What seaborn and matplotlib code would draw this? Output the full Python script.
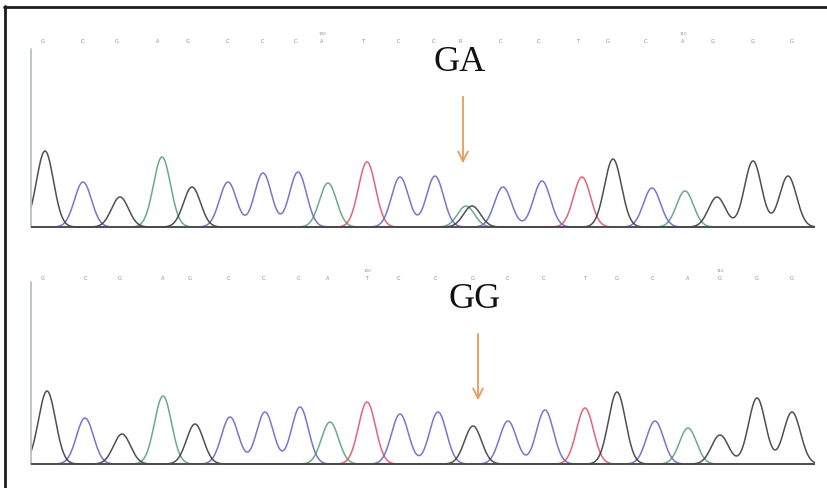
import numpy as np
import pandas as pd
import matplotlib
matplotlib.use("Agg")
import matplotlib.pyplot as plt
import seaborn as sns
from matplotlib.lines import Line2D

# --- data (scan position, peak height, base) ---
top_peak_pos = [45, 83, 120, 162, 192, 228, 263, 298, 328, 367, 400, 435,
                466, 472, 503, 542, 582, 613, 652, 685, 717, 753, 788]
top_peak_height = [76, 45, 30, 70, 40, 45, 54, 55, 44, 65, 50, 51,
                   21, 21, 40, 46, 50, 68, 39, 36, 30, 66, 51]
top_peak_base = ["G", "C", "G", "A", "G", "C", "C", "C", "A", "T", "C", "C",
                 "A", "G", "C", "C", "T", "G", "C", "A", "G", "G", "G"]
top_call_pos = [43, 82, 117, 158, 188, 227, 262, 295, 322, 363, 398,
                433, 460, 500, 538, 578, 608, 645, 683, 713, 753, 792]
top_calls = ["G", "C", "G", "A", "G", "C", "C", "C", "A", "T", "C",
             "C", "R", "C", "C", "T", "G", "C", "A", "G", "G", "G"]
top_num_pos = [322, 683]
top_nums = ["100", "110"]

bottom_peak_pos = [47, 85, 122, 163, 195, 230, 265, 300, 330, 367, 400,
                   438, 473, 508, 545, 585, 617, 655, 688, 720, 757, 792]
bottom_peak_height = [73, 46, 30, 68, 40, 47, 52, 57, 42, 62, 50,
                      52, 38, 43, 54, 56, 72, 43, 36, 29, 66, 52]
bottom_peak_base = ["G", "C", "G", "A", "G", "C", "C", "C", "A", "T", "C",
                    "C", "G", "C", "C", "T", "G", "C", "A", "G", "G", "G"]
bottom_call_pos = [43, 85, 120, 163, 190, 228, 263, 298, 328, 367, 398,
                   435, 473, 507, 543, 585, 617, 652, 688, 720, 757, 792]
bottom_calls = ["G", "C", "G", "A", "G", "C", "C", "C", "A", "T", "C",
                "C", "G", "C", "C", "T", "G", "C", "A", "G", "G", "G"]
bottom_num_pos = [367, 720]
bottom_nums = ["100", "110"]

genotypes = ["GA", "GG"]
arrow_pos = [463, 478]

palette = {"G": "#3c3c3c", "A": "#58a27c", "T": "#e2526a", "C": "#6a66c8"}
call_colors = {"G": "#8a8a8a", "A": "#8a8a8a", "T": "#8a8a8a", "C": "#7a78c8", "R": "#8a8a8a"}
SIGMA = 8.5
X_MIN, X_MAX = 31, 815


def trace_frame(pos, height, base):
    x = np.linspace(X_MIN, X_MAX, 2000)
    parts = []
    for b in ["A", "T", "C", "G"]:
        y = np.zeros_like(x)
        for p, h, bb in zip(pos, height, base):
            if bb == b:
                y += h * np.exp(-(x - p) ** 2 / (2 * SIGMA ** 2))
        parts.append(pd.DataFrame({"scan": x, "signal": y, "base": b}))
    return pd.concat(parts, ignore_index=True)


def draw_panel(ax, df, call_pos, calls, num_pos, nums, genotype, arrow_x, axis_top):
    sns.lineplot(data=df, x="scan", y="signal", hue="base", palette=palette,
                 estimator=None, sort=False, legend=False, linewidth=1.1,
                 alpha=0.9, ax=ax)
    ax.axhline(0, color="#4a4a4a", lw=1.4, alpha=0.9, zorder=3)
    ax.plot([X_MIN, X_MIN], [0, axis_top], color="#b8c2c2", lw=1.3, clip_on=False)

    for p, c in zip(call_pos, calls):
        ax.text(p, 187, c, ha="center", va="center", fontsize=3.6,
                color=call_colors[c])
    for p, n in zip(num_pos, nums):
        ax.text(p, 194, n, ha="center", va="center", fontsize=3.0, color="#8a8a8a")

    ax.text(arrow_x - 3, 166, genotype, ha="center", va="center",
            fontsize=26, family="Liberation Serif", color="#111111")
    ax.annotate("", xy=(arrow_x, 61), xytext=(arrow_x, 133),
                arrowprops=dict(arrowstyle="->,head_length=0.7,head_width=0.35",
                                color="#e89a5c", lw=1.3))

    ax.set_xlim(X_MIN, X_MAX)
    ax.set_ylim(-4, 216)
    ax.set_axis_off()


sns.set_style("white")
plt.rcParams["font.family"] = ["DejaVu Sans"]

W, H = 828, 489
fig = plt.figure(figsize=(W / 100, H / 100), dpi=100)
fig.patch.set_facecolor("white")

ax_top = fig.add_axes([X_MIN / W, (H - 232) / H, (X_MAX - X_MIN) / W, 220 / H])
ax_bot = fig.add_axes([X_MIN / W, (H - 469) / H, (X_MAX - X_MIN) / W, 220 / H])

draw_panel(ax_top, trace_frame(top_peak_pos, top_peak_height, top_peak_base),
           top_call_pos, top_calls, top_num_pos, top_nums, genotypes[0], arrow_pos[0], 178)
draw_panel(ax_bot, trace_frame(bottom_peak_pos, bottom_peak_height, bottom_peak_base),
           bottom_call_pos, bottom_calls, bottom_num_pos, bottom_nums, genotypes[1], arrow_pos[1], 182)

# thick frame on the left and top edges
fig.add_artist(Line2D([5.5 / W, 5.5 / W], [0, (H - 7) / H], color="#1c1c1c", lw=2.0))
fig.add_artist(Line2D([4.5 / W, 1], [(H - 8) / H, (H - 8) / H], color="#1c1c1c", lw=2.0))

fig.savefig("out.png", dpi=100)
